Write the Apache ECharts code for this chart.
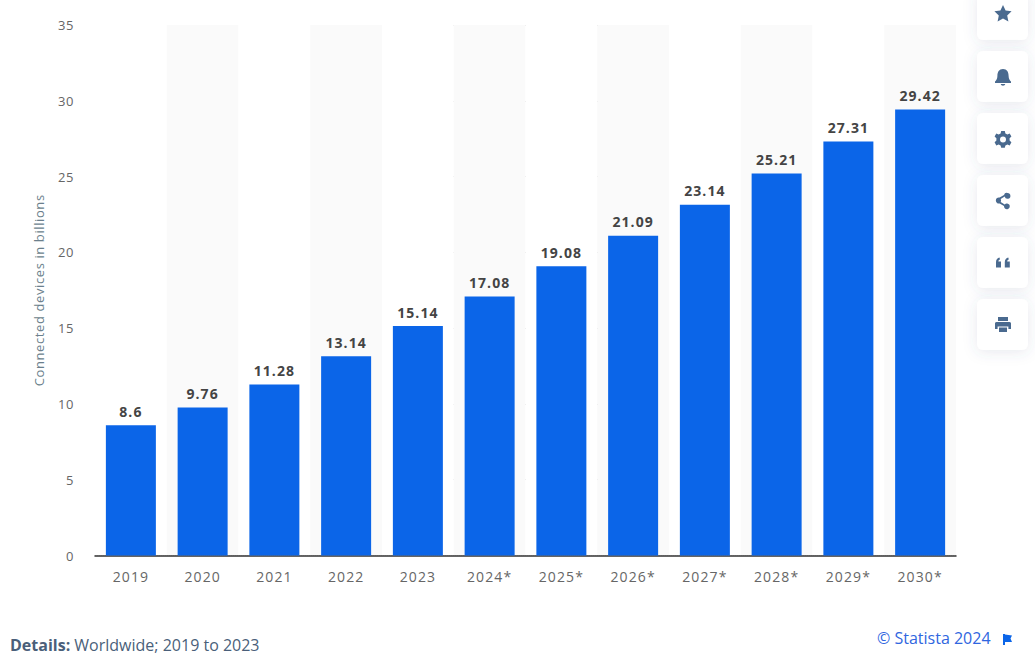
<!DOCTYPE html>
<html>
<head>
<meta charset="utf-8">
<style>
  html, body { margin: 0; padding: 0; background: #fff; }
  #main { width: 1035px; height: 666px; }
  /* the reference text is tracked out, echarts has no option for it */
  #main text[style*="14px"] { letter-spacing: 1.1px; }
  #main text[style*="13px"] { letter-spacing: 0.6px; }
</style>
<script src="https://cdn.jsdelivr.net/npm/echarts@6/dist/echarts.min.js"></script>
</head>
<body>
<div id="main"></div>
<script>
const years = ['2019', '2020', '2021', '2022', '2023', '2024*', '2025*', '2026*', '2027*', '2028*', '2029*', '2030*'];
const devices = [8.6, 9.76, 11.28, 13.14, 15.14, 17.08, 19.08, 21.09, 23.14, 25.21, 27.31, 29.42];

const font = '"Open Sans", sans-serif';
const iconColor = '#4a6a8f';
const buttonTops = [-11, 51, 113, 175, 237, 299];
const icons = [
  'M1003 5 L1005.6 10.6 L1011.6 11.3 L1007.2 15.4 L1008.4 21.4 L1003 18.4 L997.6 21.4 L998.8 15.4 L994.4 11.3 L1000.4 10.6 Z',
  'M1003 69 C1007 69 1008.6 72 1008.6 76 C1008.6 79 1010 80.5 1011 81.5 L1011 83 L995 83 L995 81.5 C996 80.5 997.4 79 997.4 76 C997.4 72 999 69 1003 69 Z M1000.8 84 L1005.2 84 C1005.2 86.2 1000.8 86.2 1000.8 84 Z',
  'M1001.2 131 L1004.8 131 L1005.4 133.4 L1007.4 134.4 L1009.7 133.4 L1011.4 136.5 L1009.6 138.2 L1009.6 140.6 L1011.4 142.3 L1009.7 145.4 L1007.4 144.4 L1005.4 145.4 L1004.8 147.8 L1001.2 147.8 L1000.6 145.4 L998.6 144.4 L996.3 145.4 L994.6 142.3 L996.4 140.6 L996.4 138.2 L994.6 136.5 L996.3 133.4 L998.6 134.4 L1000.6 133.4 Z M1003 136.4 A3 3 0 1 0 1003.01 142.4 A3 3 0 1 0 1003 136.4 Z',
  'M1007.5 193 A2.9 2.9 0 1 1 1004.7 196.6 L1000.7 199 A3 3 0 0 1 1000.7 202 L1004.7 204.4 A2.9 2.9 0 1 1 1004 206 L999.6 203.4 A3 3 0 1 1 999.6 197.6 L1004 195 A2.9 2.9 0 0 1 1007.5 193 Z',
  'M996 262 C996 259.5 997.5 258 999.5 257.6 L1000 259.4 C999 259.8 998.4 260.4 998.4 261.4 L1001 261.4 L1001 267.6 L996 267.6 Z M1004.8 262 C1004.8 259.5 1006.3 258 1008.3 257.6 L1008.8 259.4 C1007.8 259.8 1007.2 260.4 1007.2 261.4 L1009.8 261.4 L1009.8 267.6 L1004.8 267.6 Z',
  'M998 317 L1008 317 L1008 321 L998 321 Z M996.5 322 L1009.5 322 C1010.6 322 1011 322.8 1011 323.5 L1011 329 L1008.4 329 L1008.4 326.4 L997.6 326.4 L997.6 329 L995 329 L995 323.5 C995 322.8 995.4 322 996.5 322 Z M999 327.6 L1007 327.6 L1007 332 L999 332 Z'
];
const flagIcon = 'M1003 634 L1005 634 L1005 645 L1003 645 Z M1005 634.5 L1012 635.5 L1010.5 638.5 L1012 642 L1005 642 Z';

// graphic has no plain path element, so register the svg paths as shapes
function addIcon(name, d, fill, list) {
  echarts.graphic.registerShape(name, echarts.graphic.extendPath(d, {}));
  list.push({ type: name, style: { fill: fill } });
}

const graphics = [];
buttonTops.forEach((top) => {
  graphics.push({
    type: 'rect',
    shape: { x: 977, y: top, width: 51, height: 51, r: 6 },
    style: { fill: '#fff', shadowBlur: 14, shadowColor: 'rgba(70,90,130,0.13)', shadowOffsetY: 2 }
  });
});
icons.forEach((d, i) => addIcon('sideIcon' + i, d, iconColor, graphics));
addIcon('flagIcon', flagIcon, '#0b65e8', graphics);
graphics.push(
  {
    type: 'text', left: 10, top: 637,
    style: { text: '{b|Details:} Worldwide; 2019 to 2023', font: '16px ' + font, fill: '#4a5f7a',
      rich: { b: { font: 'bold 16px ' + font, fill: '#4a5f7a' } } }
  },
  {
    type: 'text', left: 877, top: 630,
    style: { text: '© Statista 2024', font: '16px ' + font, fill: '#2f66e0' }
  }
);

const chart = echarts.init(document.getElementById('main'), null, { renderer: 'svg' });
chart.setOption({
  animation: false,
  textStyle: { fontFamily: font },
  grid: { left: 95, right: 79, top: 25, bottom: 110.5 },
  xAxis: {
    type: 'category',
    data: years,
    axisLine: { lineStyle: { color: '#333', width: 1.5 } },
    axisTick: { show: false },
    axisLabel: { color: '#666', fontSize: 14, margin: 14 },
    splitArea: { show: true, areaStyle: { color: ['#fff', '#fafafa'] } }
  },
  yAxis: {
    type: 'value',
    min: 0,
    max: 35,
    interval: 5,
    name: 'Connected devices in billions',
    nameLocation: 'middle',
    nameGap: 50,
    nameTextStyle: { color: '#6b7f8c', fontSize: 13 },
    axisLine: { show: false },
    axisTick: { show: false },
    axisLabel: { color: '#666', fontSize: 13, margin: 21 },
    splitLine: { show: true, lineStyle: { color: '#c4c4c4', type: 'dotted', width: 1 } }
  },
  series: [{
    type: 'bar',
    data: devices,
    barWidth: 50,
    itemStyle: { color: '#0b65e8' },
    label: { show: true, position: 'top', distance: 7, color: '#444', fontSize: 14, fontWeight: 'bold' }
  }],
  graphic: graphics
});
</script>
</body>
</html>
